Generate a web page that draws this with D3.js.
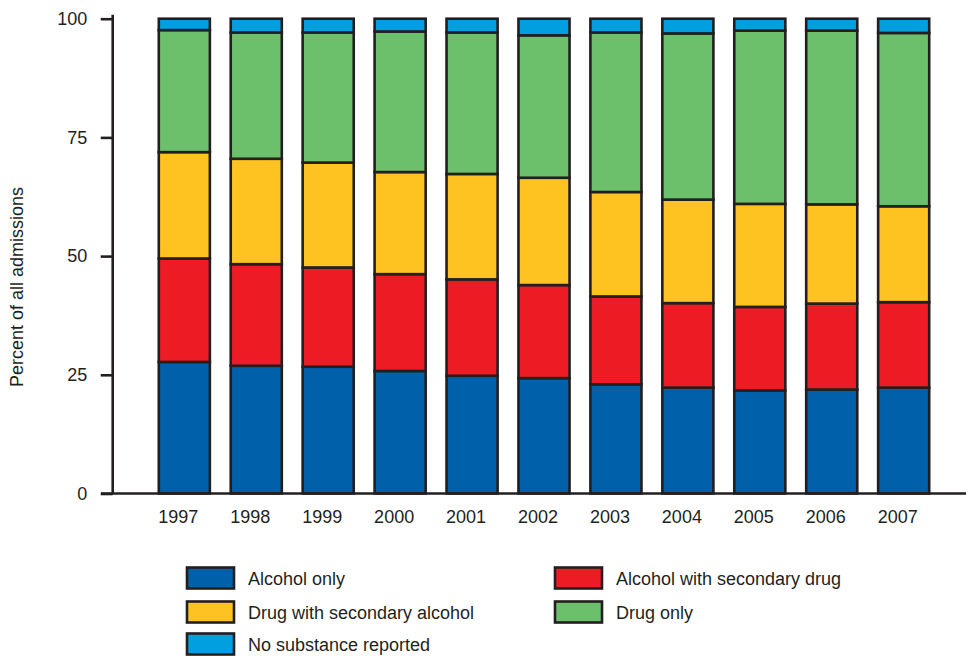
<!DOCTYPE html>
<html>
<head>
<meta charset="utf-8">
<script src="https://cdn.jsdelivr.net/npm/d3@7"></script>
<style>
  body { margin: 0; background: #fff; }
  svg text { font-family: "Liberation Sans", Arial, sans-serif; fill: #231f20; }
</style>
</head>
<body>
<svg id="chart" width="969" height="656"></svg>
<script>
// years on the x axis
var years = ["1997", "1998", "1999", "2000", "2001", "2002", "2003", "2004", "2005", "2006", "2007"];

// percent of admissions per year, bottom to top
var alcoholOnly      = [27.7, 26.9, 26.7, 25.8, 24.8, 24.3, 23.0, 22.3, 21.7, 21.9, 22.3];
var alcoholWithDrug  = [21.8, 21.4, 20.9, 20.4, 20.3, 19.6, 18.5, 17.8, 17.6, 18.1, 18.0];
var drugWithAlcohol  = [22.4, 22.2, 22.1, 21.5, 22.2, 22.6, 22.0, 21.8, 21.7, 20.9, 20.2];
var drugOnly         = [25.7, 26.6, 27.4, 29.6, 29.8, 30.0, 33.6, 35.0, 36.5, 36.6, 36.5];
var noSubstance      = [2.4, 2.9, 2.9, 2.7, 2.9, 3.5, 2.9, 3.1, 2.5, 2.5, 3.0];

var seriesNames = ["Alcohol only", "Alcohol with secondary drug", "Drug with secondary alcohol", "Drug only", "No substance reported"];
var yTicks = [0, 25, 50, 75, 100];

var myColors = ["#0060a9", "#ed1c24", "#fec221", "#6cc06b", "#00a0e0"];
var ink = "#231f20";

var seriesValues = [alcoholOnly, alcoholWithDrug, drugWithAlcohol, drugOnly, noSubstance];

// build rows for d3.stack
var rows = years.map(function (yr, i) {
    var r = { year: yr };
    seriesNames.forEach(function (name, s) { r[name] = seriesValues[s][i]; });
    return r;
});
var stacked = d3.stack().keys(seriesNames)(rows);

var svg = d3.select("#chart");

var x = d3.scaleBand()
    .domain(years)
    .range([148, 940])
    .paddingInner(0.29)
    .paddingOuter(0.15);

var y = d3.scaleLinear()
    .domain([0, 100])
    .range([493.5, 18.7]);

// bars
svg.append("g")
    .selectAll("g")
    .data(stacked)
    .join("g")
    .attr("fill", function (d, i) { return myColors[i]; })
    .selectAll("rect")
    .data(function (d) { return d; })
    .join("rect")
    .attr("x", function (d) { return x(d.data.year); })
    .attr("y", function (d) { return y(d[1]); })
    .attr("width", x.bandwidth())
    .attr("height", function (d) { return y(d[0]) - y(d[1]); })
    .attr("stroke", ink)
    .attr("stroke-width", 2.6);

// y axis
var yAxis = svg.append("g")
    .attr("transform", "translate(112.7,0)")
    .call(d3.axisLeft(y).tickValues(yTicks).tickSize(12).tickPadding(13.5));
yAxis.select(".domain").attr("stroke", ink).attr("stroke-width", 2.6).attr("d", "M0," + (y(100) - 4) + "V" + y(0));
yAxis.selectAll(".tick line").attr("stroke", ink).attr("stroke-width", 2.6);
yAxis.selectAll(".tick text").style("font-size", "18px").attr("fill", ink);

// x axis
var xAxis = svg.append("g")
    .attr("transform", "translate(0," + y(0) + ")")
    .call(d3.axisBottom(x).tickSize(0).tickPadding(17));
xAxis.select(".domain").attr("stroke", ink).attr("stroke-width", 2.6).attr("d", "M101,0H966");
xAxis.selectAll(".tick text").style("font-size", "18px").attr("fill", ink).attr("dx", -6);

// y axis title
svg.append("text")
    .attr("transform", "translate(23,287) rotate(-90)")
    .attr("text-anchor", "middle")
    .style("font-size", "18px")
    .text("Percent of all admissions");

// legend
var legendOrder = [0, 1, 2, 3, 4];
var legendX = [187, 555];
var legendY = [567.5, 601.5, 633.5];
var legend = svg.append("g")
    .selectAll("g")
    .data(legendOrder)
    .join("g")
    .attr("transform", function (d, i) {
        var col = i % 2;
        var row = Math.floor(i / 2);
        return "translate(" + legendX[col] + "," + legendY[row] + ")";
    });
legend.append("rect")
    .attr("width", 47)
    .attr("height", 21)
    .attr("fill", function (d) { return myColors[d]; })
    .attr("stroke", ink)
    .attr("stroke-width", 2.6);
legend.append("text")
    .attr("x", 61)
    .attr("y", 17)
    .style("font-size", "18px")
    .text(function (d) { return seriesNames[d]; });
</script>
</body>
</html>
